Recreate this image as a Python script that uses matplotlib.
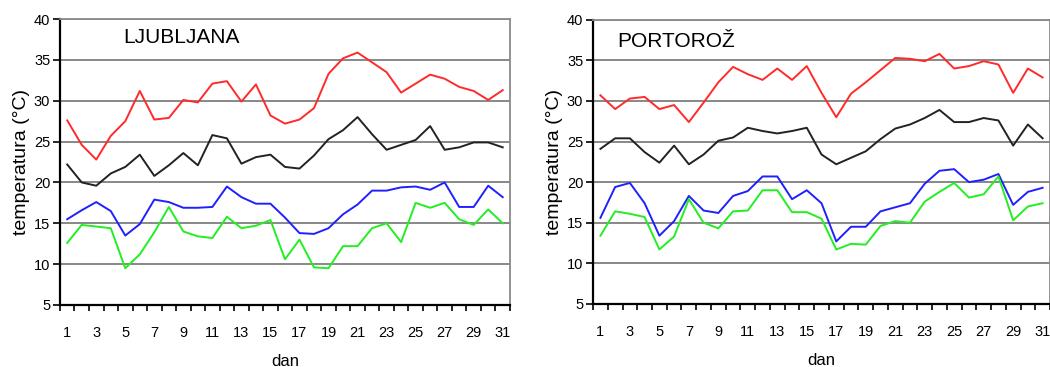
import numpy as np
import matplotlib
matplotlib.use("Agg")
import matplotlib.pyplot as plt

plt.rcParams['font.family'] = ['Liberation Sans', 'DejaVu Sans']

# daily temperatures, July
days = np.arange(1, 32)

lj_max = [27.6, 24.6, 22.8, 25.7, 27.5, 31.2, 27.7, 27.9, 30.1, 29.8, 32.1, 32.4, 29.9, 32.0, 28.2, 27.2,
          27.7, 29.1, 33.3, 35.2, 35.9, 34.7, 33.5, 31.0, 32.1, 33.2, 32.7, 31.7, 31.2, 30.1, 31.3]
lj_avg = [22.2, 20.0, 19.6, 21.1, 21.9, 23.4, 20.8, 22.1, 23.6, 22.1, 25.8, 25.4, 22.3, 23.1, 23.4, 21.9,
          21.7, 23.3, 25.3, 26.4, 28.0, 25.9, 24.0, 24.6, 25.2, 26.9, 24.0, 24.3, 24.9, 24.9, 24.3]
lj_min = [15.5, 16.6, 17.6, 16.5, 13.5, 14.9, 17.9, 17.6, 16.9, 16.9, 17.0, 19.5, 18.2, 17.4, 17.4, 15.7,
          13.8, 13.7, 14.4, 16.1, 17.3, 19.0, 19.0, 19.4, 19.5, 19.1, 20.0, 17.0, 17.0, 19.6, 18.2]
lj_min5 = [12.6, 14.8, 14.6, 14.4, 9.5, 11.2, 13.9, 17.0, 14.0, 13.4, 13.2, 15.8, 14.4, 14.7, 15.4, 10.6,
           13.0, 9.6, 9.5, 12.2, 12.2, 14.4, 15.0, 12.7, 17.5, 16.9, 17.5, 15.5, 14.8, 16.7, 15.0]

po_max = [30.7, 29.0, 30.3, 30.5, 29.0, 29.5, 27.4, 29.8, 32.3, 34.2, 33.3, 32.6, 34.0, 32.6, 34.3, 31.0,
          28.0, 30.9, 32.3, 33.8, 35.3, 35.2, 34.9, 35.8, 34.0, 34.3, 34.9, 34.5, 31.0, 34.0, 32.9]
po_avg = [24.1, 25.4, 25.4, 23.7, 22.4, 24.5, 22.2, 23.4, 25.1, 25.5, 26.7, 26.3, 26.0, 26.3, 26.7, 23.4,
          22.2, 23.0, 23.8, 25.3, 26.6, 27.1, 27.9, 28.9, 27.4, 27.4, 27.9, 27.6, 24.5, 27.1, 25.4]
po_min = [15.6, 19.4, 19.9, 17.4, 13.4, 15.2, 18.3, 16.5, 16.2, 18.3, 18.9, 20.7, 20.7, 17.9, 19.0, 17.4,
          12.7, 14.5, 14.5, 16.4, 16.9, 17.4, 19.8, 21.4, 21.6, 20.0, 20.3, 21.0, 17.2, 18.8, 19.3]
po_min5 = [13.4, 16.4, 16.1, 15.7, 11.7, 13.3, 17.9, 15.0, 14.3, 16.4, 16.5, 19.0, 19.0, 16.3, 16.3, 15.5,
           11.7, 12.4, 12.3, 14.6, 15.2, 15.0, 17.6, 18.8, 19.9, 18.1, 18.5, 20.7, 15.3, 17.0, 17.4]

colors = ['#ff2a2a', '#222222', '#2020ff', '#22ee22']

fig = plt.figure(figsize=(10.5, 3.67), dpi=100)
ax1 = fig.add_axes([0.0571, 0.169, 0.4286, 0.779])
ax2 = fig.add_axes([0.5648, 0.172, 0.4352, 0.774])


def draw(ax, series, title, tx, ty):
    for y in range(10, 41, 5):
        ax.axhline(y, color='#7f7f7f', lw=1.3, zorder=1)
    for vals, c in zip(series, colors):
        ax.plot(days, vals, color=c, lw=1.4, zorder=3)
    ax.set_xlim(0.5, 31.5)
    ax.set_ylim(5, 40)
    ax.set_yticks(range(5, 41, 5))
    ax.set_xticks(days[::2])
    ax.set_xticks(np.arange(0.5, 32, 1), minor=True)
    ax.tick_params(axis='x', which='major', length=0, pad=15, labelsize=10.5)
    ax.tick_params(axis='x', which='minor', length=4, width=1.2, direction='out')
    ax.tick_params(axis='y', length=5, width=1.2, labelsize=10.5, pad=2)
    for s in ['left', 'bottom']:
        ax.spines[s].set_linewidth(1.6)
        ax.spines[s].set_color('black')
    for s in ['top', 'right']:
        ax.spines[s].set_color('#8a8a8a')
        ax.spines[s].set_linewidth(1.3)
    ax.set_ylabel('temperatura (°C)', fontsize=14, labelpad=3)
    ax.set_xlabel('dan', fontsize=12, labelpad=10)
    ax.text(tx, ty, title, transform=ax.transAxes, fontsize=15, va='center', ha='left')


draw(ax1, [lj_max, lj_avg, lj_min, lj_min5], 'LJUBLJANA', 0.14, 0.937)
draw(ax2, [po_max, po_avg, po_min, po_min5], 'PORTOROŽ', 0.053, 0.923)

fig.savefig('out.png', dpi=100)
